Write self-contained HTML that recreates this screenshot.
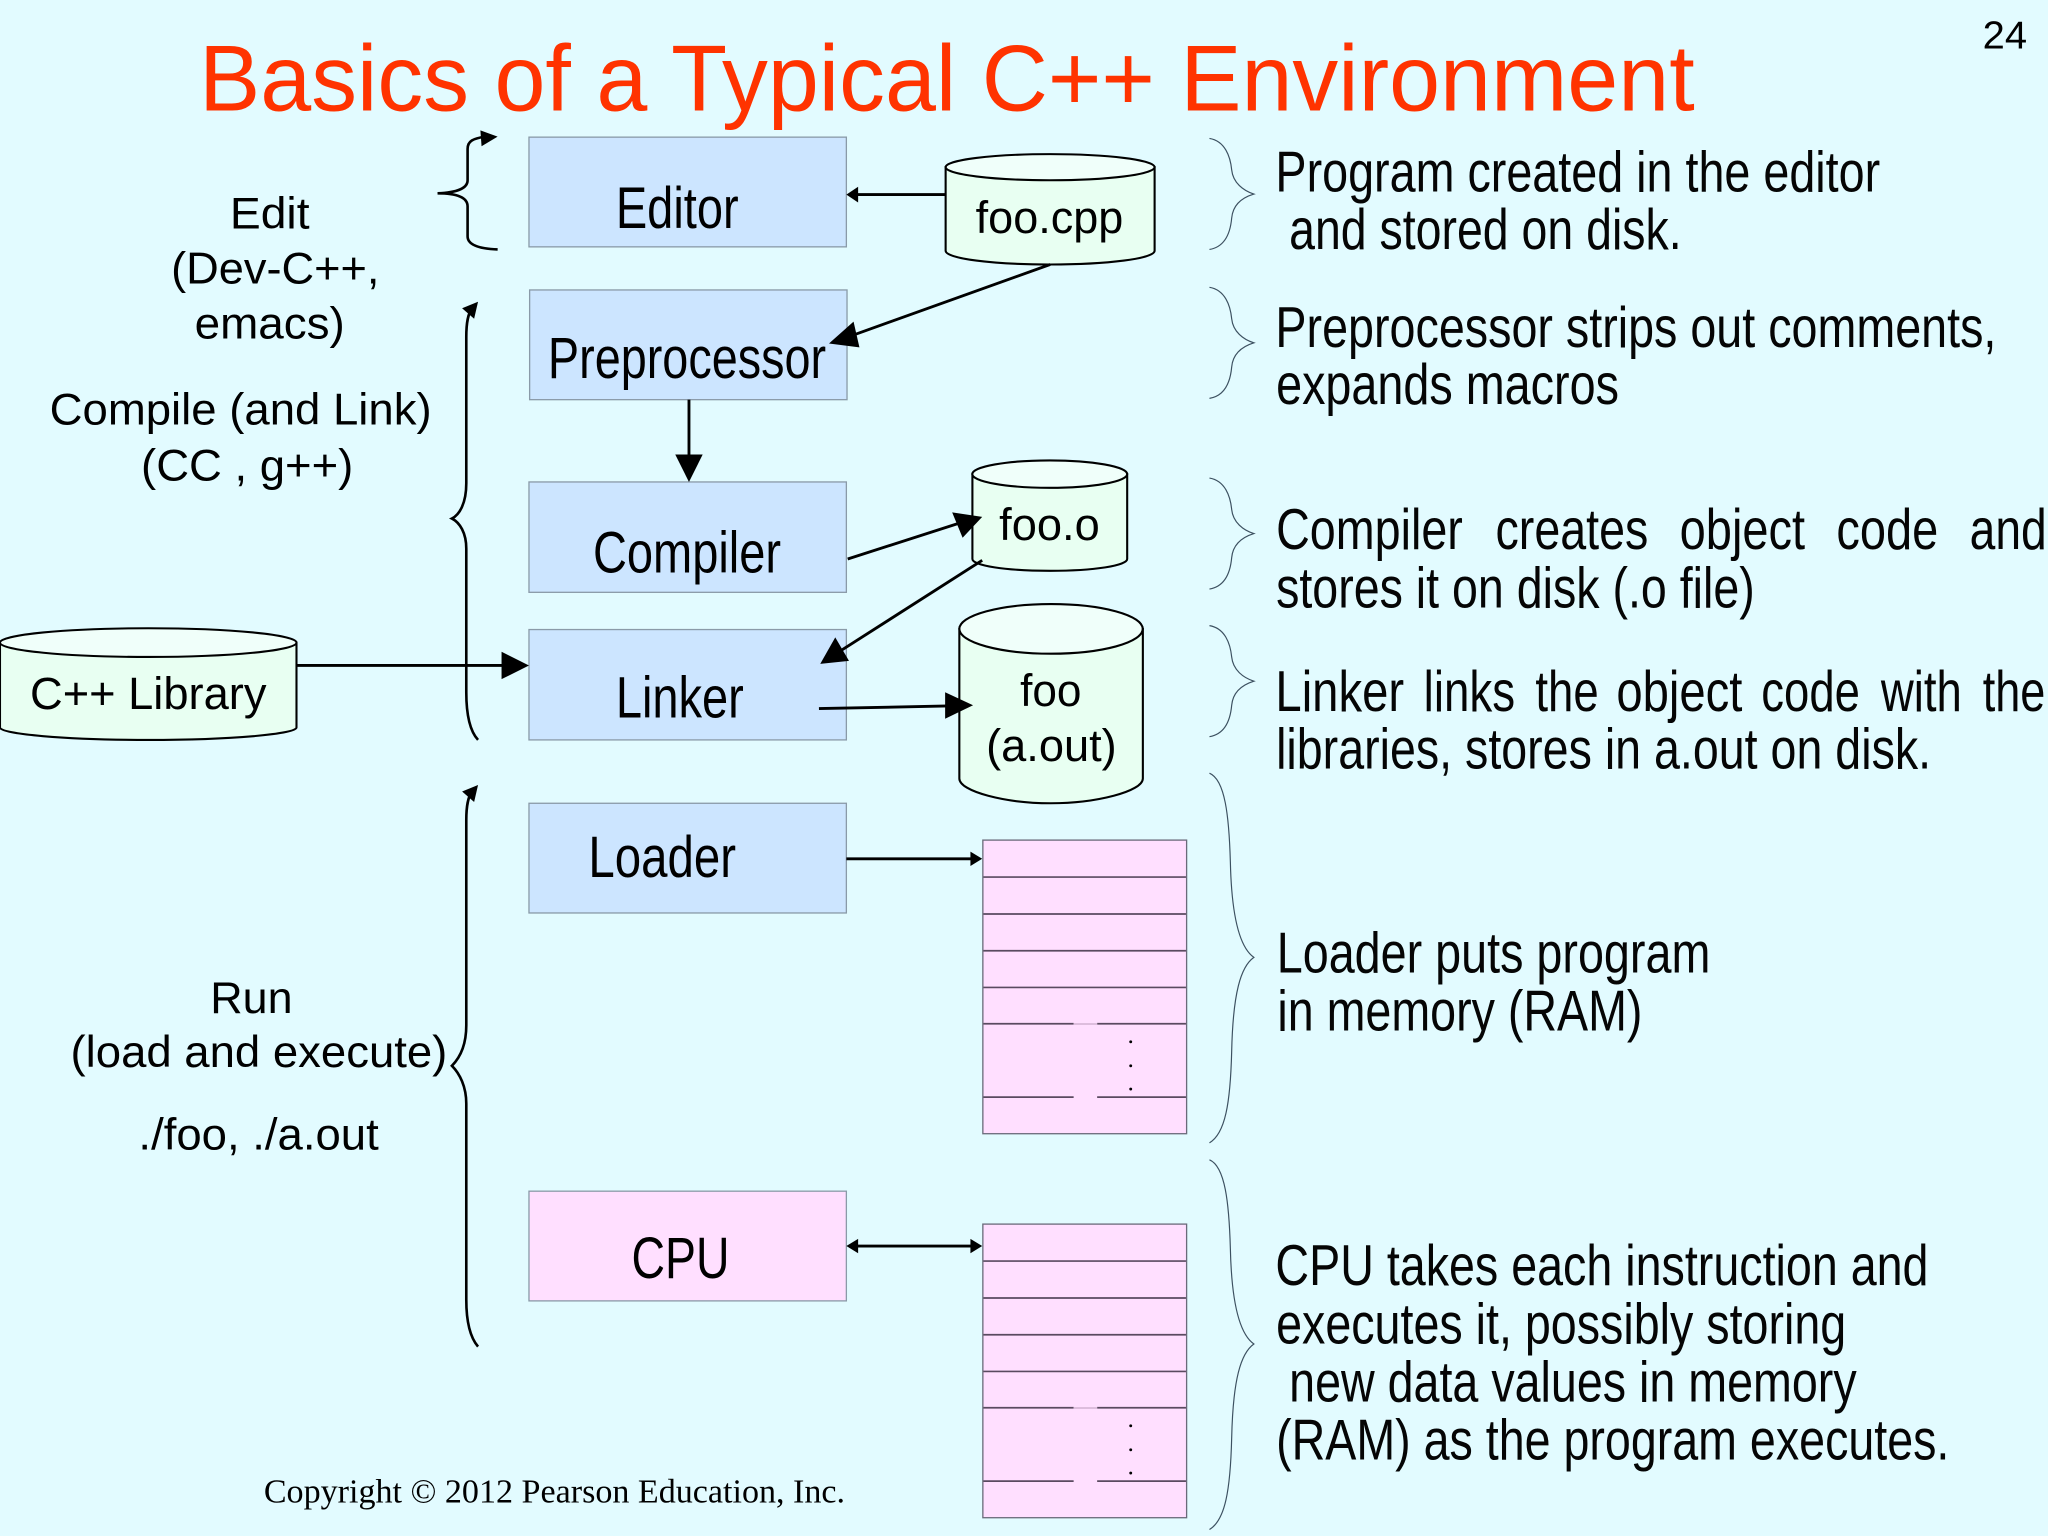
<!DOCTYPE html>
<html><head><meta charset="utf-8"><style>
html,body{margin:0;padding:0;background:#E2FBFF;width:2048px;height:1536px;overflow:hidden}
svg{display:block}
text{font-family:"Liberation Sans",sans-serif;fill:#000}
.r{font-size:44px;fill:#050505}
.b{font-size:45px}
.l{font-size:34px}
.c{font-size:35px}
.box{stroke:#8a9aa8;stroke-width:1}
.cyl{fill:#E8FFF2;stroke:#000;stroke-width:1.6}
.top{fill:#F0FFFA;stroke:#000;stroke-width:1.6}
.ar{stroke:#000;stroke-width:2.2;fill:none}
.br{stroke:#000;stroke-width:2;fill:none}
.th{stroke:#3c5060;stroke-width:.9;fill:none}
.g{stroke:#5a4a60;stroke-width:1.3}
</style></head><body>
<svg width="2048" height="1536" viewBox="0 0 1568 1176" xmlns="http://www.w3.org/2000/svg">
<rect width="1568" height="1176" fill="#E2FBFF"/>
<text x="152.5" y="84.5" font-size="72" style="fill:#FF3300" textLength="1145" lengthAdjust="spacingAndGlyphs">Basics of a Typical C++ Environment</text>
<text x="1518" y="37" font-size="30" textLength="34" lengthAdjust="spacingAndGlyphs">24</text>

<!-- boxes -->
<g class="box" fill="#CCE5FF">
<rect x="405" y="105" width="243" height="84"/>
<rect x="405.5" y="222" width="243" height="84"/>
<rect x="405" y="369" width="243" height="84.5"/>
<rect x="405" y="482" width="243" height="84.5"/>
<rect x="405" y="615" width="243" height="84"/>
<rect x="405" y="912" width="243" height="84" fill="#FFDFFF"/>
</g>
<text class="b" x="471.5" y="174.5" textLength="94" lengthAdjust="spacingAndGlyphs">Editor</text>
<text class="b" x="419.5" y="289.5" textLength="213" lengthAdjust="spacingAndGlyphs">Preprocessor</text>
<text class="b" x="454" y="438.5" textLength="144" lengthAdjust="spacingAndGlyphs">Compiler</text>
<text class="b" x="471.5" y="549.5" textLength="98" lengthAdjust="spacingAndGlyphs">Linker</text>
<text class="b" x="450.5" y="671.5" textLength="113" lengthAdjust="spacingAndGlyphs">Loader</text>
<text class="b" x="483.5" y="978.5" textLength="75" lengthAdjust="spacingAndGlyphs">CPU</text>

<!-- cylinders -->
<path class="cyl" d="M724,128 V192 C724,198 760,202.5 804,202.5 S884,198 884,192 V128 Z"/>
<ellipse class="top" cx="804" cy="128" rx="80" ry="10"/>
<path class="cyl" d="M744.5,363 V428 C744.5,433 770,437 804,437 S863,433 863,428 V363 Z"/>
<ellipse class="top" cx="803.7" cy="363" rx="59.3" ry="10.5"/>
<path class="cyl" d="M734.5,481.5 V596 C734.5,606 770,615 804.5,615 S875,606 875,596 V481.5 Z"/>
<ellipse class="top" cx="804.7" cy="481.5" rx="70.2" ry="19"/>
<path class="cyl" d="M0,492 V557 C0,562 50,566.5 113.5,566.5 S227,562 227,557 V492 Z"/>
<ellipse class="top" cx="113.5" cy="492" rx="113.5" ry="11"/>
<text class="c" x="747" y="178.5" textLength="113" lengthAdjust="spacingAndGlyphs">foo.cpp</text>
<text class="c" x="765" y="413.5" textLength="77" lengthAdjust="spacingAndGlyphs">foo.o</text>
<text class="c" x="781" y="540.5" textLength="47" lengthAdjust="spacingAndGlyphs">foo</text>
<text class="c" x="755" y="582.5" textLength="100" lengthAdjust="spacingAndGlyphs">(a.out)</text>
<text class="c" x="23" y="543" textLength="181" lengthAdjust="spacingAndGlyphs">C++ Library</text>

<!-- left labels -->
<text class="l" x="176" y="175" textLength="61" lengthAdjust="spacingAndGlyphs">Edit</text>
<text class="l" x="131" y="217" textLength="159.5" lengthAdjust="spacingAndGlyphs">(Dev-C++,</text>
<text class="l" x="149" y="259" textLength="115" lengthAdjust="spacingAndGlyphs">emacs)</text>
<text class="l" x="38" y="325" textLength="292.5" lengthAdjust="spacingAndGlyphs">Compile (and Link)</text>
<text class="l" x="108" y="368" textLength="162.5" lengthAdjust="spacingAndGlyphs">(CC , g++)</text>
<text class="l" x="161" y="775.5" textLength="63" lengthAdjust="spacingAndGlyphs">Run</text>
<text class="l" x="54" y="817" textLength="288.5" lengthAdjust="spacingAndGlyphs">(load and execute)</text>
<text class="l" x="106" y="880" textLength="184" lengthAdjust="spacingAndGlyphs">./foo, ./a.out</text>

<!-- left braces -->
<path class="br" d="M381,191 C368,190.5 358,188 358,181 V158 C358,151 350,148 335,148 C350,147.5 358,144 358,138 V114 C358,108 362,106 372,104.5"/>
<polygon points="381,104.6 367.8,99.8 368.7,112"/>
<path class="br" d="M366,566.5 C360,560 357,548 357,530 V420 C357,408 352,400 346,397 C352,394 357,385 357,370 V258 C357,248 358,240 362,235"/>
<polygon points="366,231 353.8,236 363,244"/>
<path class="br" d="M366,1031 C360,1024 357,1012 357,995 V845 C357,832 352,822 346,816 C352,810 357,800 357,785 V628 C357,618 358,610 362,605"/>
<polygon points="366,601 353.8,606 363,614"/>

<!-- right thin braces -->
<g class="th">
<path d="M926,106 C938,108 942,120 943,130 C944,140 952,146 960,148.6 C952,151 944,156 943,167 C942,178 938,189 926,191"/>
<path d="M926,220 C938,222 942,234 943,244 C944,254 952,260 960,262.5 C952,265 944,270 943,281 C942,292 938,303 926,305"/>
<path d="M926,366 C938,368 942,380 943,390 C944,400 952,406 960,408.5 C952,411 944,416 943,427 C942,438 938,449 926,451"/>
<path d="M926,479 C938,481 942,493 943,503 C944,513 952,519 960,521.5 C952,524 944,529 943,540 C942,551 938,562 926,564"/>
<path d="M926,592 C938,597 941,625 942,660 C943,705 950,726 960,733 C950,740 944,760 943,805 C942,845 938,868 926,875"/>
<path d="M926,888 C938,893 941,921 942,956 C943,1001 950,1022 960,1029 C950,1036 944,1056 943,1101 C942,1141 938,1164 926,1171"/>
</g>

<!-- arrows -->
<g>
<line class="ar" x1="724" y1="149" x2="655" y2="149"/><polygon points="648,149 657,143 657,155"/>
<line class="ar" x1="804" y1="202.5" x2="652" y2="257"/><polygon points="634.7,263 653.5,246.2 658,266"/>
<line class="ar" x1="527.5" y1="306" x2="527.5" y2="350"/><polygon points="527.5,369 517,348 538,348"/>
<line class="ar" x1="649" y1="428" x2="733" y2="401"/><polygon points="752,395.7 729,392.3 737,411.7"/>
<line class="ar" x1="752" y1="429" x2="644" y2="498"/><polygon points="628,508.3 639.5,488 650,506"/>
<line class="ar" x1="627" y1="542.5" x2="726" y2="540.5"/><polygon points="745,540 723.6,530 723.6,550.3"/>
<line class="ar" x1="227" y1="509.5" x2="386" y2="509.5"/><polygon points="405,509.5 384,499 384,520"/>
<line class="ar" x1="648" y1="657.5" x2="745" y2="657.5"/><polygon points="752,657.5 743,652 743,663"/>
<line class="ar" x1="655" y1="954" x2="745" y2="954"/><polygon points="752,954 743,948.5 743,959.5"/><polygon points="648,954 657,948.5 657,959.5"/>
</g>

<!-- RAM 1 -->
<rect x="752.5" y="643.2" width="156" height="224.8" fill="#FFDFFF" stroke="#6a6a7a" stroke-width="1"/>
<g class="g">
<line x1="753" x2="908" y1="671.5" y2="671.5"/><line x1="753" x2="908" y1="699.8" y2="699.8"/>
<line x1="753" x2="908" y1="727.9" y2="727.9"/><line x1="753" x2="908" y1="756" y2="756"/>
<line x1="753" x2="822" y1="783.8" y2="783.8"/><line x1="840" x2="908" y1="783.8" y2="783.8"/>
<line x1="753" x2="822" y1="840" y2="840"/><line x1="840" x2="908" y1="840" y2="840"/>
</g>
<line x1="822" x2="840" y1="784" y2="784" stroke="#d8b8d8" stroke-width="1.3"/>
<circle cx="865.7" cy="797.6" r="1.1"/><circle cx="865.7" cy="816" r="1.1"/><circle cx="865.7" cy="833.8" r="1.1"/>
<!-- RAM 2 -->
<rect x="752.5" y="937.2" width="156" height="224.8" fill="#FFDFFF" stroke="#6a6a7a" stroke-width="1"/>
<g class="g">
<line x1="753" x2="908" y1="965.5" y2="965.5"/><line x1="753" x2="908" y1="993.8" y2="993.8"/>
<line x1="753" x2="908" y1="1021.9" y2="1021.9"/><line x1="753" x2="908" y1="1050" y2="1050"/>
<line x1="753" x2="822" y1="1077.8" y2="1077.8"/><line x1="840" x2="908" y1="1077.8" y2="1077.8"/>
<line x1="753" x2="822" y1="1134" y2="1134"/><line x1="840" x2="908" y1="1134" y2="1134"/>
</g>
<line x1="822" x2="840" y1="1078" y2="1078" stroke="#d8b8d8" stroke-width="1.3"/>
<circle cx="865.7" cy="1091.6" r="1.1"/><circle cx="865.7" cy="1110" r="1.1"/><circle cx="865.7" cy="1127.8" r="1.1"/>

<!-- right text -->
<text class="r" x="976.5" y="146.5" textLength="463" lengthAdjust="spacingAndGlyphs">Program created in the editor</text>
<text class="r" x="987" y="190.5" textLength="300.5" lengthAdjust="spacingAndGlyphs">and stored on disk.</text>
<text class="r" x="976.5" y="265.5" textLength="552" lengthAdjust="spacingAndGlyphs">Preprocessor strips out comments,</text>
<text class="r" x="977" y="309.5" textLength="262.5" lengthAdjust="spacingAndGlyphs">expands macros</text>
<text class="r" x="977" y="420.5" textLength="143" lengthAdjust="spacingAndGlyphs">Compiler</text>
<text class="r" x="1145" y="420.5" textLength="117" lengthAdjust="spacingAndGlyphs">creates</text>
<text class="r" x="1286" y="420.5" textLength="96" lengthAdjust="spacingAndGlyphs">object</text>
<text class="r" x="1406" y="420.5" textLength="78" lengthAdjust="spacingAndGlyphs">code</text>
<text class="r" x="1508" y="420.5" textLength="59" lengthAdjust="spacingAndGlyphs">and</text>
<text class="r" x="977" y="465" textLength="366.5" lengthAdjust="spacingAndGlyphs">stores it on disk (.o file)</text>
<text class="r" x="976.5" y="544.5" textLength="98.5" lengthAdjust="spacingAndGlyphs">Linker</text>
<text class="r" x="1090" y="544.5" textLength="70" lengthAdjust="spacingAndGlyphs">links</text>
<text class="r" x="1175.5" y="544.5" textLength="48.5" lengthAdjust="spacingAndGlyphs">the</text>
<text class="r" x="1237.5" y="544.5" textLength="96.5" lengthAdjust="spacingAndGlyphs">object</text>
<text class="r" x="1348.5" y="544.5" textLength="75.5" lengthAdjust="spacingAndGlyphs">code</text>
<text class="r" x="1440" y="544.5" textLength="62" lengthAdjust="spacingAndGlyphs">with</text>
<text class="r" x="1518" y="544.5" textLength="48" lengthAdjust="spacingAndGlyphs">the</text>
<text class="r" x="977" y="588.5" textLength="501.5" lengthAdjust="spacingAndGlyphs">libraries, stores in a.out on disk.</text>
<text class="r" x="977.5" y="744.5" textLength="332" lengthAdjust="spacingAndGlyphs">Loader puts program</text>
<text class="r" x="978" y="789" textLength="279.5" lengthAdjust="spacingAndGlyphs">in memory (RAM)</text>
<text class="r" x="976.5" y="984" textLength="500" lengthAdjust="spacingAndGlyphs">CPU takes each instruction and</text>
<text class="r" x="977" y="1028.5" textLength="436.5" lengthAdjust="spacingAndGlyphs">executes it, possibly storing</text>
<text class="r" x="987" y="1073" textLength="434.5" lengthAdjust="spacingAndGlyphs">new data values in memory</text>
<text class="r" x="977" y="1117.5" textLength="515.5" lengthAdjust="spacingAndGlyphs">(RAM) as the program executes.</text>

<text x="202" y="1150.5" font-size="26" style="font-family:'Liberation Serif',serif" textLength="445" lengthAdjust="spacingAndGlyphs">Copyright © 2012 Pearson Education, Inc.</text>
</svg>
</body></html>
